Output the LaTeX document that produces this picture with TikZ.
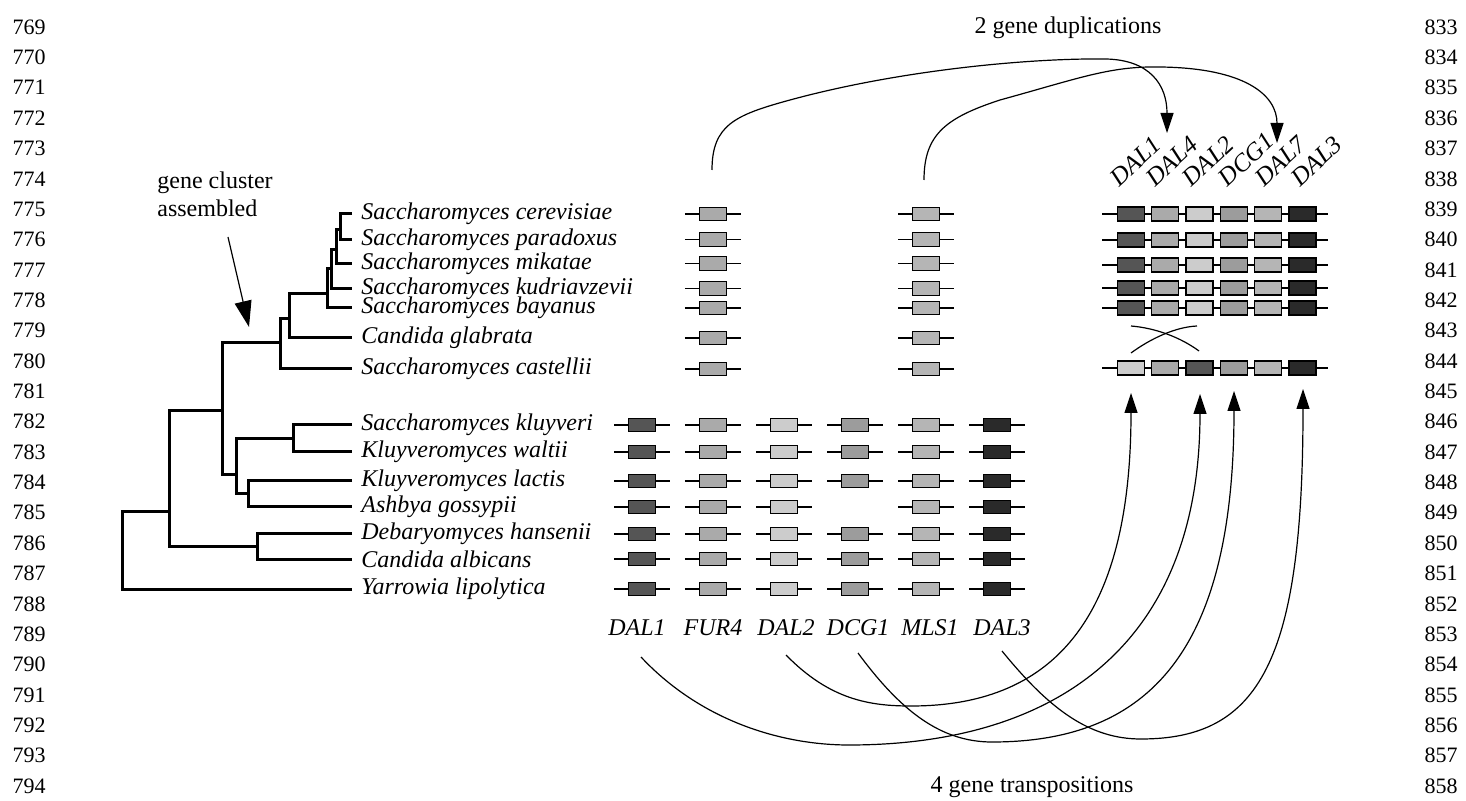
\documentclass[tikz,border=0pt]{standalone}
\usepackage{fontspec}
\setmainfont{Liberation Serif}
\usetikzlibrary{arrows.meta}
\definecolor{cdalA}{RGB}{85,85,85}
\definecolor{cfur}{RGB}{170,170,170}
\definecolor{cdalB}{RGB}{204,204,204}
\definecolor{cdcg}{RGB}{156,156,156}
\definecolor{cmls}{RGB}{181,181,181}
\definecolor{cdalC}{RGB}{42,42,42}
\begin{document}
\begin{tikzpicture}[x=0.5pt,y=-0.5pt,
  txt/.style={font=\fontsize{12}{14}\selectfont, inner sep=0pt},
  sp/.style={font=\fontsize{12}{14}\selectfont\itshape, inner sep=0pt, anchor=west},
  rlab/.style={font=\fontsize{12.5}{14}\selectfont\itshape, inner sep=0pt, anchor=base west, rotate=43},
  lnum/.style={font=\fontsize{11}{13}\selectfont, inner sep=0pt},
  tree/.style={line width=1.5pt},
  gene/.style={draw=black, line width=0.65pt, minimum width=13.5pt, minimum height=6.8pt, inner sep=0pt},
  gline/.style={line width=0.65pt},
  conn/.style={line width=0.6pt},
  tipA/.style={-{Triangle[length=10pt,width=6.5pt]}},
  tipB/.style={-{Triangle[length=13pt,width=8.5pt]}}
]
\useasboundingbox (0,0) rectangle (1466,801);

% line numbers
\foreach \i in {0,...,25}{
  \pgfmathtruncatemacro{\a}{769+\i}
  \pgfmathtruncatemacro{\b}{833+\i}
  \node[lnum] (nl\i) at (29,27+30.36*\i) {\a};
  \node[lnum] (nr\i) at (1441,27+30.36*\i) {\b};
}

% titles
\node[txt] (dup) at (1068,28) {2 gene duplications};
\node[txt] (trans) at (1032,787) {4 gene transpositions};
\node[txt, align=left] (gca) at (215,194) {gene cluster\\assembled};

% leaves
\foreach \n/\y/\name in {
  1/214/Saccharomyces cerevisiae,
  2/239.5/Saccharomyces paradoxus,
  3/263.5/Saccharomyces mikatae,
  4/288.5/Saccharomyces kudriavzevii,
  5/308/Saccharomyces bayanus,
  6/338/Candida glabrata,
  7/369/Saccharomyces castellii,
  8/425/Saccharomyces kluyveri,
  9/452/Kluyveromyces waltii,
  10/481/Kluyveromyces lactis,
  11/507/Ashbya gossypii,
  12/534/Debaryomyces hansenii,
  13/559/Candida albicans,
  14/589/Yarrowia lipolytica}{
  \coordinate (L\n) at (352,\y);
  \node[sp] (sp\n) at (361,\y) {\name};
}

% internal tree nodes
\coordinate (n1) at (340.7,229.3);
\coordinate (n2) at (336,250);
\coordinate (n3) at (331,268.3);
\coordinate (n4) at (327.7,293.3);
\coordinate (n5) at (289,318.3);
\coordinate (n6) at (280,342.7);
\coordinate (n7) at (293.3,438.3);
\coordinate (n8) at (248.3,493.3);
\coordinate (n9) at (236,475);
\coordinate (n10) at (222.3,411);
\coordinate (n11) at (257.3,546.7);
\coordinate (n12) at (169,511.7);
\coordinate (n13) at (122.7,550);

\draw[tree] (L1) -| (n1) |- (L2);
\draw[tree] (n1) -| (n2) |- (L3);
\draw[tree] (n2) -| (n3) |- (L4);
\draw[tree] (n3) -| (n4) |- (L5);
\draw[tree] (n4) -| (n5) |- (L6);
\draw[tree] (n5) -| (n6) |- (L7);
\draw[tree] (L8) -| (n7) |- (L9);
\draw[tree] (L10) -| (n8) |- (L11);
\draw[tree] (n7) -| (n9) |- (n8);
\draw[tree] (n6) -| (n10) |- (n9);
\draw[tree] (L12) -| (n11) |- (L13);
\draw[tree] (n10) -| (n12) |- (n11);
\draw[tree] (n12) -| (n13) |- (L14);

% gene cluster arrow
\coordinate (gcs) at (228,237);
\coordinate (gce) at (249,327);
\draw[conn, tipB] (gcs) -- (gce);

% gene boxes, upper block (FUR4 and MLS1 only)
\foreach \r/\y in {1/214,2/239.5,3/263.5,4/288.5,5/308,6/338,7/369}{
  \foreach \c/\x/\col in {2/712.8/cfur,5/926/cmls}{
    \draw[gline] (\x-28,\y) -- (\x+28,\y);
    \node[gene, fill=\col] (g\r-\c) at (\x,\y) {};
  }
}
% gene boxes, lower block
\foreach \r/\y in {8/425,9/452,10/481,11/507,12/534,13/559,14/589}{
  \foreach \c/\x/\col in {1/642/cdalA,2/712.8/cfur,3/784/cdalB,4/855/cdcg,5/926/cmls,6/997/cdalC}{
    \ifnum\r=11 \ifnum\c=4 \else
      \draw[gline] (\x-28,\y) -- (\x+28,\y);
      \node[gene, fill=\col] (g\r-\c) at (\x,\y) {};
    \fi\else
      \draw[gline] (\x-28,\y) -- (\x+28,\y);
      \node[gene, fill=\col] (g\r-\c) at (\x,\y) {};
    \fi
  }
}

% ancestral labels
\foreach \c/\x/\t in {1/637/DAL1,2/713/FUR4,3/786/DAL2,4/858/DCG1,5/930/MLS1,6/1002/DAL3}{
  \node[sp, anchor=center] (lab\c) at (\x,628) {\t};
}

% right block
\foreach \r/\y in {1/214,2/240,3/265,4/288,5/308}{
  \draw[gline] (1102,\y) -- (1328,\y);
  \foreach \c/\col in {1/cdalA,2/cfur,3/cdalB,4/cdcg,5/cmls,6/cdalC}{
    \node[gene, minimum height=7pt, fill=\col] (r\r-\c) at (1131+34.3*\c-34.3,\y) {};
  }
}
\draw[gline] (1102,368) -- (1328,368);
\foreach \c/\col in {1/cdalB,2/cfur,3/cdalA,4/cdcg,5/cmls,6/cdalC}{
  \node[gene, minimum height=7pt, fill=\col] (c\c) at (1131+34.3*\c-34.3,368) {};
}
\foreach \c/\t in {1/DAL1,2/DAL4,3/DAL2,4/DCG1,5/DAL7,6/DAL3}{
  \node[rlab] (rl\c) at (1119+36.2*\c-36.2,188) {\t};
}

% inversion cross
\coordinate (xa1) at (1131,326);
\coordinate (xa2) at (1199,351);
\coordinate (xb1) at (1131,353);
\coordinate (xb2) at (1197,326);
\draw[conn] (xa1) .. controls (1155,328) and (1180,337) .. (xa2);
\draw[conn] (xb1) .. controls (1150,339) and (1175,327) .. (xb2);

% duplication arrows
\coordinate (d1s) at (712,170);
\coordinate (d1e) at (1167,133);
\coordinate (d2s) at (924,180);
\coordinate (d2e) at (1277,143);
\draw[conn, tipA] (d1s) .. controls (712,125) and (735,115) .. (790,100)
   .. controls (900,70) and (1030,58) .. (1106,59)
   .. controls (1150,60) and (1167,85) .. (d1e);
\draw[conn, tipA] (d2s) .. controls (924,135) and (945,118) .. (1000,100)
   .. controls (1080,78) and (1110,66) .. (1160,67)
   .. controls (1245,68) and (1277,95) .. (d2e);

% transposition arrows
\coordinate (t1s) at (641,657);
\coordinate (t1e) at (1200,394);
\coordinate (t2s) at (786,655);
\coordinate (t2e) at (1131,393);
\coordinate (t3s) at (858,653);
\coordinate (t3e) at (1234,391);
\coordinate (t4s) at (1002,651);
\coordinate (t4e) at (1303,389);
\draw[conn, tipA] (t1s) .. controls (700,720) and (780,745) .. (849,745)
   .. controls (1050,745) and (1200,650) .. (t1e);
\draw[conn, tipA] (t2s) .. controls (830,700) and (870,706) .. (911,706)
   .. controls (1060,706) and (1131,610) .. (t2e);
\draw[conn, tipA] (t3s) .. controls (900,710) and (940,742) .. (992,742)
   .. controls (1150,742) and (1234,650) .. (t3e);
\draw[conn, tipA] (t4s) .. controls (1050,710) and (1090,739) .. (1141,739)
   .. controls (1260,739) and (1303,660) .. (t4e);
\end{tikzpicture}
\end{document}
